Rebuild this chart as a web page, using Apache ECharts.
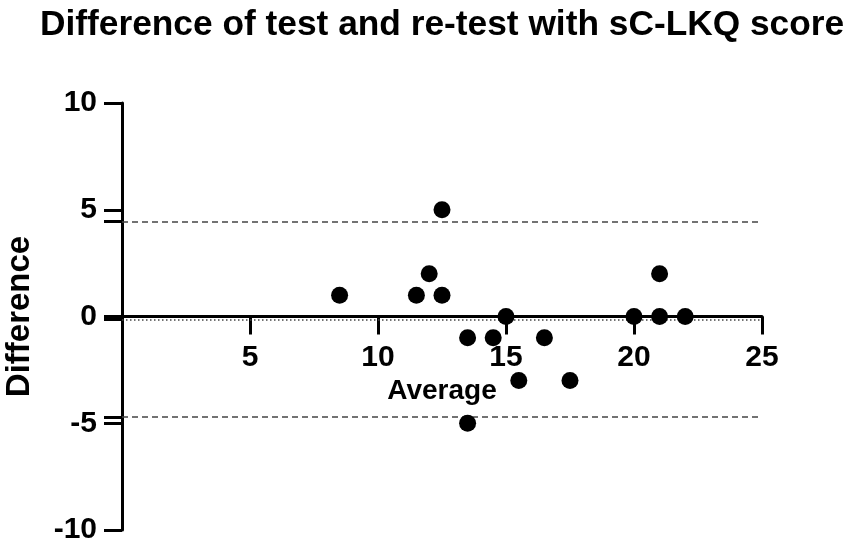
<!DOCTYPE html>
<html>
<head>
<meta charset="utf-8">
<script src="https://cdn.jsdelivr.net/npm/echarts@6/dist/echarts.min.js"></script>
<style>
  html, body { margin: 0; padding: 0; background: #fff; }
  #chart { width: 851px; height: 548px; }
</style>
</head>
<body>
<div id="chart"></div>
<script>
// average of test and re-test (x) vs difference (y)
var averages = [8.5, 11.5, 12, 12.5, 12.5, 13.5, 13.5, 14.5, 15, 15.5, 16.5, 17.5, 20, 21, 21, 22];
var differences = [1, 1, 2, 1, 5, -1, -5, -1, 0, -3, -1, -3, 0, 0, 2, 0];

// bias and limits of agreement
var bias = -0.125;
var upperLimit = 4.45;
var lowerLimit = -4.70;

var xTickLabels = [5, 10, 15, 20, 25];
var yTickLabels = [-10, -5, 0, 5, 10];

var font = "'Liberation Sans', Arial, sans-serif";

var points = averages.map(function (a, i) {
    return [a, differences[i]];
});

var gridTop = 103, gridBottom = 18;
var plotHeight = 548 - gridTop - gridBottom;

var chart = echarts.init(document.getElementById('chart'));

chart.setOption({
    backgroundColor: '#fff',
    animation: false,
    title: {
        text: 'Difference of test and re-test with sC-LKQ score',
        left: 35,
        top: 3,
        textStyle: {
            fontFamily: font,
            fontWeight: 'bold',
            fontSize: 35.3,
            color: '#000'
        }
    },
    grid: {
        left: 122,
        right: 89,
        top: gridTop,
        bottom: gridBottom,
        outerBoundsMode: 'none'
    },
    xAxis: {
        type: 'value',
        min: 0,
        max: 25,
        interval: 5,
        // x axis sits on y = 0, in the middle of the plot
        offset: -plotHeight / 2,
        name: 'Average',
        nameLocation: 'middle',
        nameGap: 61,
        nameTextStyle: {
            fontFamily: font,
            fontWeight: 'bold',
            fontSize: 28,
            color: '#000'
        },
        axisLine: {
            onZero: false,
            lineStyle: { color: '#000', width: 3 }
        },
        axisTick: {
            length: 18,
            customValues: xTickLabels,
            lineStyle: { color: '#000', width: 3 }
        },
        axisLabel: {
            customValues: xTickLabels,
            margin: 26,
            fontFamily: font,
            fontWeight: 'bold',
            fontSize: 30,
            color: '#000'
        },
        splitLine: { show: false }
    },
    yAxis: {
        type: 'value',
        min: -10,
        max: 10,
        interval: 5,
        name: 'Difference',
        nameLocation: 'middle',
        nameGap: 86,
        nameTextStyle: {
            fontFamily: font,
            fontWeight: 'bold',
            fontSize: 33,
            color: '#000'
        },
        axisLine: {
            show: true,
            lineStyle: { color: '#000', width: 3 }
        },
        axisTick: {
            length: 18,
            customValues: yTickLabels.concat([upperLimit, lowerLimit, bias]),
            lineStyle: { color: '#000', width: 3 }
        },
        axisLabel: {
            customValues: yTickLabels,
            margin: 25,
            fontFamily: font,
            fontWeight: 'bold',
            fontSize: 30,
            color: '#000'
        },
        splitLine: { show: false }
    },
    series: [
        {
            type: 'scatter',
            data: points,
            symbol: 'circle',
            symbolSize: 17,
            itemStyle: { color: '#000', opacity: 1 },
            z: 5,
            markLine: {
                silent: true,
                symbol: 'none',
                label: { show: false },
                lineStyle: { color: '#444', width: 1.5, type: [6, 4] },
                data: [
                    { yAxis: upperLimit },
                    { yAxis: lowerLimit },
                    { yAxis: bias, lineStyle: { color: '#444', width: 1.5, type: [1.5, 2.5] } }
                ]
            }
        }
    ]
});
</script>
</body>
</html>
